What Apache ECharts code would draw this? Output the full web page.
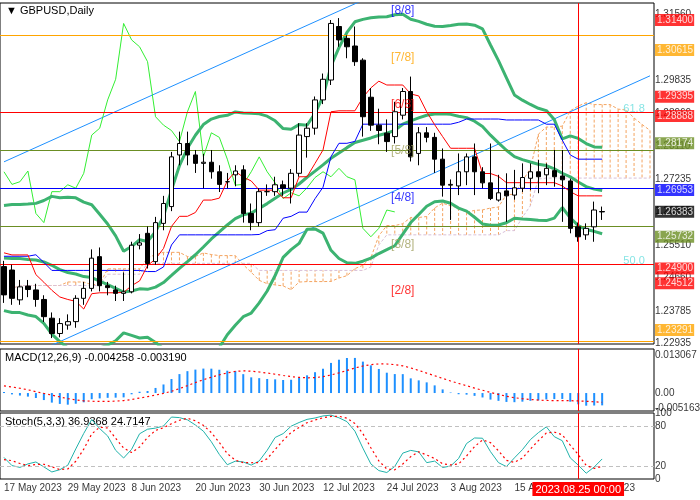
<!DOCTYPE html>
<html><head><meta charset="utf-8">
<script src="https://cdn.jsdelivr.net/npm/echarts@6/dist/echarts.min.js"></script>
<style>html,body{margin:0;padding:0;background:#fff}#c{width:700px;height:500px}</style>
</head><body><div id="c"></div>
<script>
// ---- data ----
const histClose=[1.2500,1.2458,1.2417,1.2410,1.2375,1.2427,1.2486,1.2516,1.2414,1.2412,1.2434,1.2450,1.2440,1.2443,1.2486,1.2431,1.2467,1.2495,1.2575,1.2500,1.2490,1.2573,1.2569,1.2632,1.2619,1.2621,1.2626,1.2493,1.2447,1.2528,1.2493];
// [open, close, low, high]
const ohlc=[
[1.2495,1.2421,1.2400,1.2510],[1.2486,1.2412,1.2395,1.2500],[1.2408,1.2442,1.2395,1.2460],[1.2444,1.2435,1.2415,1.2460],
[1.2434,1.2409,1.2390,1.2450],[1.2409,1.2364,1.2350,1.2420],[1.2360,1.2320,1.2308,1.2375],[1.2320,1.2346,1.2310,1.2360],
[1.2342,1.2351,1.2330,1.2370],[1.2351,1.2412,1.2335,1.2420],[1.2412,1.2438,1.2395,1.2455],[1.2438,1.2517,1.2430,1.2540],
[1.2521,1.2445,1.2430,1.2545],[1.2445,1.2440,1.2420,1.2455],[1.2434,1.2425,1.2405,1.2445],[1.2425,1.2429,1.2405,1.2480],
[1.2429,1.2551,1.2425,1.2560],[1.2551,1.2557,1.2540,1.2580],[1.2582,1.2503,1.2490,1.2600],[1.2508,1.2610,1.2500,1.2625],
[1.2608,1.2660,1.2590,1.2680],[1.2652,1.2782,1.2640,1.2795],[1.2787,1.2817,1.2760,1.2848],[1.2817,1.2787,1.2760,1.2848],
[1.2787,1.2765,1.2740,1.2800],[1.2765,1.2768,1.2700,1.2790],[1.2768,1.2743,1.2725,1.2800],[1.2743,1.2710,1.2690,1.2760],
[1.2717,1.2717,1.2700,1.2740],[1.2735,1.2745,1.2705,1.2760],[1.2748,1.2634,1.2610,1.2760],[1.2634,1.2610,1.2590,1.2660],
[1.2610,1.2691,1.2600,1.2700],[1.2691,1.2691,1.2680,1.2710],[1.2691,1.2709,1.2680,1.2730],[1.2709,1.2700,1.2680,1.2720],
[1.2700,1.2739,1.2660,1.2750],[1.2739,1.2839,1.2730,1.2870],[1.2835,1.2857,1.2780,1.2870],[1.2857,1.2931,1.2840,1.2940],
[1.2931,1.2985,1.2920,1.3000],[1.2983,1.3131,1.2970,1.3140],[1.3123,1.3088,1.3070,1.3145],[1.3092,1.3070,1.3040,1.3100],
[1.3072,1.3031,1.3020,1.3123],[1.3035,1.2887,1.2835,1.3040],[1.2938,1.2865,1.2850,1.2962],[1.2865,1.2851,1.2815,1.2908],
[1.2844,1.2822,1.2795,1.2880],[1.2835,1.2900,1.2817,1.2926],[1.2891,1.2953,1.2880,1.2962],[1.2953,1.2782,1.2770,1.2992],
[1.2791,1.2845,1.2760,1.2860],[1.2845,1.2833,1.2820,1.2860],[1.2833,1.2776,1.2740,1.2845],[1.2776,1.2708,1.2678,1.2804],
[1.2708,1.2710,1.2617,1.2723],[1.2706,1.2743,1.2682,1.2791],[1.2743,1.2782,1.2708,1.2791],[1.2782,1.2743,1.2682,1.2817],
[1.2743,1.2714,1.2700,1.2755],[1.2714,1.2673,1.2669,1.2817],[1.2669,1.2688,1.2665,1.2735],[1.2693,1.2680,1.2612,1.2739],
[1.2682,1.2701,1.2670,1.2748],[1.2700,1.2728,1.2690,1.2765],[1.2726,1.2743,1.2695,1.2765],[1.2743,1.2730,1.2687,1.2774],
[1.2735,1.2752,1.2708,1.2765],[1.2746,1.2730,1.2704,1.2800],[1.2732,1.2722,1.2612,1.2800],[1.2719,1.2595,1.2582,1.2725],
[1.2599,1.2573,1.2560,1.2610],[1.2578,1.2595,1.2565,1.2608],[1.2599,1.2643,1.2560,1.2665],[1.2639,1.2638,1.2617,1.2652]];
const dateLabels=['17 May 2023','29 May 2023','8 Jun 2023','20 Jun 2023','30 Jun 2023','12 Jul 2023','24 Jul 2023','3 Aug 2023','15 Aug 2023','25 Aug 2023'];
const markerLabel='2023.08.25 00:00';
const markerIndex=72;
const priceTicks=[1.31560,1.29835,1.28960,1.28110,1.27235,1.26385,1.25510,1.24660,1.23785,1.22935];
const levels=[ // price, line color, dashed, box color
[1.31400,'#ff0000',true,'#ff0000'],[1.30615,'#ffa500',false,'#ffa500'],[1.29395,'#ff0000',false,'#ff0000'],[1.28888,'#ff0000',true,'#ff0000'],
[1.28174,'#6b8e23',false,'#6b8e23'],[1.26953,'#0000ff',false,'#0000ff'],[1.26383,'#c0c0c0',false,'#000000'],[1.25732,'#6b8e23',false,'#6b8e23'],
[1.24900,'#ff0000',true,'#ff0000'],[1.24512,'#ff0000',false,'#ff0000'],[1.23291,'#ffa500',false,'#ffa500']];
const murrey=[['[8/8]',1.3140,'#0000ff'],['[7/8]',1.3018,'#ffa500'],['[6/8]',1.2896,'#ff0000'],['[5/8]',1.2774,'#a0a060'],
['[4/8]',1.2652,'#0000ff'],['[3/8]',1.2530,'#a0a060'],['[2/8]',1.2408,'#ff0000'],['[1/8]',1.2286,'#ffa500']];
const murreyIndex=50;
const fibs=[['61.8',1.28888],['50.0',1.24900]];
const trendLower=[[0,1.2233],[81,1.2994]];
const trendUpper=[[0,1.2769],[81,1.3530]];
const macdTicks=[0.013067,0,-0.005163];
const stochTicks=[100,80,20,0];

// ---- derived indicators ----
const H=histClose.length,N=ohlc.length,NC=82,LAST=NC-1;
const C=histClose.concat(ohlc.map(r=>r[1]));
const HI=histClose.map(c=>c+0.003).concat(ohlc.map(r=>r[3]));
const LO=histClose.map(c=>c-0.003).concat(ohlc.map(r=>r[2]));
const cats=[];for(let i=0;i<NC;i++)cats.push(i);
function mid(g,n){let s=Math.max(0,g-n+1),hh=-1e9,ll=1e9;for(let k=s;k<=g;k++){hh=Math.max(hh,HI[k]);ll=Math.min(ll,LO[k]);}return (hh+ll)/2;}
const bu=[],bm=[],bl=[],tenkan=[],kijun=[],chikou=[],spanA=[],spanB=[];
for(let i=0;i<NC;i++){
  const g=i+H;
  if(i<N){let s=0,q=0;for(let k=g-19;k<=g;k++)s+=C[k];const m=s/20;for(let k=g-19;k<=g;k++)q+=(C[k]-m)**2;const sd=Math.sqrt(q/20);
    bm.push(m);bu.push(m+2*sd);bl.push(m-2*sd);tenkan.push(mid(g,9));kijun.push(mid(g,26));}
  else{bm.push(null);bu.push(null);bl.push(null);tenkan.push(null);kijun.push(null);}
  chikou.push(i+26<N?C[g+26]:null);
  const gj=g-26;
  if(gj>=0&&gj<H+N){spanA.push((mid(gj,9)+mid(gj,26))/2);spanB.push(mid(gj,52));}else{spanA.push(null);spanB.push(null);}
}
function ema(arr,n){const a=2/(n+1);const o=[arr[0]];for(let k=1;k<arr.length;k++)o.push(a*arr[k]+(1-a)*o[k-1]);return o;}
const e12=ema(C,12),e26=ema(C,26);const macdAll=C.map((c,k)=>e12[k]-e26[k]);
const macd=[],sig=[];
for(let i=0;i<N;i++){const g=i+H;macd.push(macdAll[g]);let s=0;for(let k=g-8;k<=g;k++)s+=macdAll[k];sig.push(s/9);}
const kAll=[];
for(let g=0;g<C.length;g++){let a=0,b=0;for(let j=g-2;j<=g;j++){if(j<4){continue;}let hh=-1e9,ll=1e9;for(let k=j-4;k<=j;k++){hh=Math.max(hh,HI[k]);ll=Math.min(ll,LO[k]);}a+=C[j]-ll;b+=hh-ll;}kAll.push(b>0?a/b*100:50);}
const stK=[],stD=[];
for(let i=0;i<N;i++){const g=i+H;stK.push(kAll[g]);stD.push((kAll[g]+kAll[g-1]+kAll[g-2])/3);}

// ---- chart ----
const F='Liberation Sans';
const ch=echarts.init(document.getElementById('c'));
const gridBase={show:true,borderColor:'#000',borderWidth:1,left:0,right:46};
function xa(idx){return {type:'category',gridIndex:idx,data:cats,boundaryGap:true,axisLine:{show:false},axisTick:{show:false},splitLine:{show:false},axisLabel:{show:false}};}
function ya(idx,min,max){return {type:'value',gridIndex:idx,min,max,position:'right',axisLine:{show:false},axisTick:{show:false},axisLabel:{show:false},splitLine:{show:false}};}
function sideLabels(xi,yi,vals,fmt,box,z){return {type:'scatter',xAxisIndex:xi,yAxisIndex:yi,clip:false,silent:true,z,symbolSize:0,
  data:vals.map(v=>[LAST,v]),
  label:{show:true,position:'right',distance:5,fontFamily:F,fontSize:10,
   formatter:(p)=>fmt(vals[p.dataIndex]),
   color:box?'#fff':'#000',padding:box?[2,1,0,2]:0},
  labelLayout:{hideOverlap:false},
  itemStyle:{color:'transparent'}};}
const hl=levels.map(l=>({yAxis:l[0],lineStyle:{color:l[1],type:l[2]?[4,3]:'solid',width:1}}));
const boxSeries=sideLabels(0,0,levels.map(l=>l[0]),v=>v.toFixed(5),true,20);
boxSeries.data=levels.map(l=>({value:[LAST,l[0]],label:{backgroundColor:l[3]}}));
const dateSeries={type:'scatter',xAxisIndex:2,yAxisIndex:2,clip:false,silent:true,symbolSize:0,z:2,itemStyle:{color:'transparent'},
  data:dateLabels.map((d,i)=>[i*8,0]),
  label:{show:true,position:'bottom',distance:4,align:'left',offset:[-3,0],fontFamily:F,fontSize:10,color:'#000',formatter:(p)=>dateLabels[p.dataIndex]},
  labelLayout:{hideOverlap:false}};
const series=[
 {type:'custom',xAxisIndex:0,yAxisIndex:0,z:1,silent:true,data:cats.map(i=>[i,spanA[i],spanB[i]]).filter(d=>d[1]!=null),
  renderItem:(p,api)=>{const a=api.coord([api.value(0),api.value(1)]),b=api.coord([api.value(0),api.value(2)]);
   return {type:'line',shape:{x1:a[0],y1:a[1],x2:b[0],y2:b[1]},style:{stroke:'#f4a460',lineWidth:1,lineDash:[3,2]}};}},
 {type:'line',data:spanA,symbol:'none',lineStyle:{color:'#f4a460',width:1,type:[3,2]},z:2,silent:true},
 {type:'line',data:spanB,symbol:'none',lineStyle:{color:'#d8bfd8',width:1,type:[3,2]},z:2,silent:true},
 {type:'line',data:[],markLine:{symbol:'none',silent:true,data:hl,label:{show:false}},z:3},
 {type:'line',data:trendLower,symbol:'none',lineStyle:{color:'#1e90ff',width:1},z:3,silent:true},
 {type:'line',data:trendUpper,symbol:'none',lineStyle:{color:'#1e90ff',width:1},z:3,silent:true},
 {type:'line',data:chikou,symbol:'none',lineStyle:{color:'#33ee33',width:1},z:4,silent:true},
 {type:'line',data:bu,symbol:'none',lineStyle:{color:'#3cb371',width:3},z:4,silent:true},
 {type:'line',data:bm,symbol:'none',lineStyle:{color:'#3cb371',width:3},z:4,silent:true},
 {type:'line',data:bl,symbol:'none',lineStyle:{color:'#3cb371',width:3},z:4,silent:true},
 {type:'line',data:kijun,symbol:'none',lineStyle:{color:'#0000ff',width:1},z:5,silent:true},
 {type:'line',data:tenkan,symbol:'none',lineStyle:{color:'#ff0000',width:1},z:5,silent:true},
 {type:'candlestick',data:ohlc,barWidth:5,z:6,itemStyle:{color:'#fff',color0:'#000',borderColor:'#000',borderColor0:'#000',borderWidth:1},
  markLine:{symbol:'none',silent:true,data:[{xAxis:markerIndex}],lineStyle:{color:'#ff0000',width:1,type:'solid'},label:{show:false}}},
 {type:'scatter',data:murrey.map(m=>[murreyIndex,m[1]]),symbolSize:0,z:7,silent:true,itemStyle:{color:'transparent'},
  label:{show:true,position:'top',distance:3,fontFamily:F,fontSize:12,formatter:(p)=>'{c'+p.dataIndex+'|'+murrey[p.dataIndex][0]+'}',
   rich:Object.fromEntries(murrey.map((m,i)=>['c'+i,{color:m[2],fontFamily:F,fontSize:12}]))}},
 {type:'scatter',data:fibs.map(f=>[79,f[1]]),symbolSize:0,z:7,silent:true,itemStyle:{color:'transparent'},
  label:{show:true,position:'top',distance:2,color:'#66dddd',fontFamily:F,fontSize:11,formatter:(p)=>fibs[p.dataIndex][0]}},
 sideLabels(0,0,priceTicks,v=>v.toFixed(5),false,10),
 boxSeries,
 {type:'bar',xAxisIndex:1,yAxisIndex:1,data:macd,barWidth:2,itemStyle:{color:'#1e90ff'},silent:true},
 {type:'line',xAxisIndex:1,yAxisIndex:1,data:sig,symbol:'none',lineStyle:{color:'#ff0000',width:1.2,type:[2,3]},silent:true,
  markLine:{symbol:'none',silent:true,data:[{xAxis:markerIndex}],lineStyle:{color:'#ff0000',width:1,type:'solid'},label:{show:false}}},
 sideLabels(1,1,macdTicks,v=>v===0?'0.00':v.toFixed(6),false,10),
 {type:'line',xAxisIndex:2,yAxisIndex:2,data:stK,symbol:'none',lineStyle:{color:'#20b2aa',width:1},silent:true,
  markLine:{symbol:'none',silent:true,data:[{yAxis:80},{yAxis:20}],lineStyle:{color:'#c0c0c0',width:1,type:[4,3]},label:{show:false}}},
 {type:'line',xAxisIndex:2,yAxisIndex:2,data:stD,symbol:'none',z:20,lineStyle:{color:'#ff0000',width:1.2,type:[2,3]},silent:true,
  markLine:{symbol:'none',silent:true,data:[{xAxis:markerIndex}],lineStyle:{color:'#ff0000',width:1,type:'solid'},
   label:{show:true,position:'start',distance:3,formatter:markerLabel,color:'#fff',backgroundColor:'#ff0000',padding:[2,3,1,3],fontFamily:F,fontSize:11}}},
 sideLabels(2,2,stochTicks,v=>String(v),false,10),
 dateSeries
];
series.forEach(s=>{ if(s.xAxisIndex===undefined){s.xAxisIndex=0;s.yAxisIndex=0;} });
ch.setOption({
 animation:false,
 grid:[Object.assign({top:3,height:341},gridBase),Object.assign({top:349,height:62},gridBase),Object.assign({top:413,height:66},gridBase)],
 xAxis:[xa(0),xa(1),xa(2)],
 yAxis:[ya(0,1.22925,1.31845),ya(1,-0.0062,0.0152),ya(2,0,100)],
 graphic:[
  {type:'text',left:6,top:5,style:{text:'▼ GBPUSD,Daily',fill:'#000',font:'11px Liberation Sans'}},
  {type:'text',left:5,top:352,style:{text:'MACD(12,26,9) -0.004258 -0.003190',fill:'#000',font:'11px Liberation Sans'}},
  {type:'text',left:5,top:416,style:{text:'Stoch(5,3,3) 36.9368 24.7147',fill:'#000',font:'11px Liberation Sans'}}
 ],
 series
});
</script></body></html>
